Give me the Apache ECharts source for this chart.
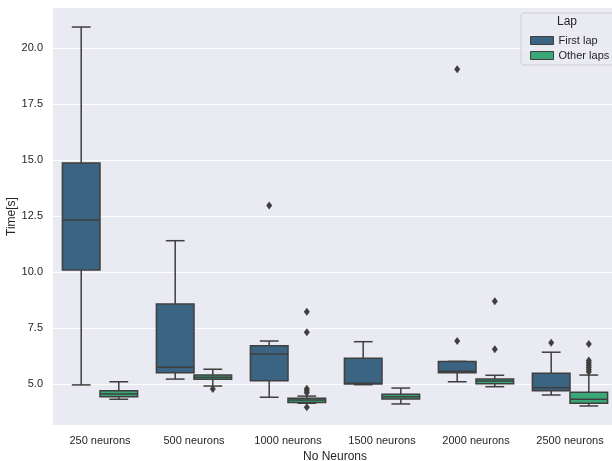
<!DOCTYPE html>
<html>
<head>
<meta charset="utf-8">
<script src="https://cdn.jsdelivr.net/npm/echarts@6/dist/echarts.min.js"></script>
<style>
  html, body { margin: 0; padding: 0; background: #fff; }
  #chart { width: 612px; height: 461px; }
</style>
</head>
<body>
<div id="chart"></div>
<script>
// categories and box statistics: [lower whisker, Q1, median, Q3, upper whisker]
var categories = ['250 neurons', '500 neurons', '1000 neurons', '1500 neurons', '2000 neurons', '2500 neurons'];
var firstLapBoxes = [
  [4.96, 10.09, 12.32, 14.87, 20.94],
  [5.22, 5.50, 5.75, 8.57, 11.40],
  [4.41, 5.15, 6.34, 6.71, 6.92],
  [4.97, 5.00, 5.03, 6.15, 6.89],
  [5.10, 5.50, 5.57, 6.01, 6.01],
  [4.51, 4.70, 4.83, 5.48, 6.42]
];
var otherLapBoxes = [
  [4.32, 4.43, 4.55, 4.70, 5.10],
  [4.91, 5.21, 5.30, 5.40, 5.66],
  [4.14, 4.17, 4.29, 4.36, 4.46],
  [4.11, 4.33, 4.43, 4.54, 4.82],
  [4.88, 5.01, 5.13, 5.22, 5.39],
  [4.02, 4.14, 4.32, 4.63, 5.40]
];
// outliers per category
var firstLapOutliers = [[], [], [12.97], [], [19.05, 6.92], [6.84]];
var otherLapOutliers = [[], [4.78], [8.23, 7.31, 4.79, 4.70, 4.61, 3.96], [], [8.70, 6.55], [6.79, 6.05, 5.95, 5.85, 5.75, 5.65, 5.55]];
var yTicks = [5, 7.5, 10, 12.5, 15, 17.5, 20];

var edge = '#3f3f3f';
var colFirst = '#3b6482';
var colOther = '#3aa776';
var font = 'Liberation Sans, Arial, sans-serif';

function boxData(list) {
  return list.map(function (b, i) { return [i].concat(b); });
}
function outlierData(list) {
  var out = [];
  list.forEach(function (vals, i) {
    vals.forEach(function (v) { out.push([i, v]); });
  });
  return out;
}

// seaborn-like box: offset = shift of the hue inside the band (fraction of band)
function makeBoxRender(offset, fill) {
  return function (params, api) {
    var cat = api.value(0);
    var band = api.size([1, 0])[0];
    var w = band * 0.4;
    var cx = api.coord([cat, 0])[0] + offset * band;
    var yLo = api.coord([cat, api.value(1)])[1];
    var yQ1 = api.coord([cat, api.value(2)])[1];
    var yMed = api.coord([cat, api.value(3)])[1];
    var yQ3 = api.coord([cat, api.value(4)])[1];
    var yHi = api.coord([cat, api.value(5)])[1];
    var ls = { stroke: edge, lineWidth: 1.5 };
    var cap = w / 4;
    return {
      type: 'group',
      children: [
        { type: 'line', shape: { x1: cx, y1: yQ1, x2: cx, y2: yLo }, style: ls },
        { type: 'line', shape: { x1: cx, y1: yQ3, x2: cx, y2: yHi }, style: ls },
        { type: 'line', shape: { x1: cx - cap, y1: yLo, x2: cx + cap, y2: yLo }, style: ls },
        { type: 'line', shape: { x1: cx - cap, y1: yHi, x2: cx + cap, y2: yHi }, style: ls },
        { type: 'rect', shape: { x: cx - w / 2, y: yQ3, width: w, height: yQ1 - yQ3 },
          style: { fill: fill, stroke: edge, lineWidth: 1.5 } },
        { type: 'line', shape: { x1: cx - w / 2, y1: yMed, x2: cx + w / 2, y2: yMed }, style: ls }
      ]
    };
  };
}

function makeOutlierRender(offset) {
  return function (params, api) {
    var cat = api.value(0);
    var band = api.size([1, 0])[0];
    var p = api.coord([cat, api.value(1)]);
    var x = p[0] + offset * band, y = p[1];
    return {
      type: 'polygon',
      shape: { points: [[x, y - 4], [x + 3, y], [x, y + 4], [x - 3, y]] },
      style: { fill: edge }
    };
  };
}

var chart = echarts.init(document.getElementById('chart'));
var option = {
  animation: false,
  textStyle: { fontFamily: font },
  grid: {
    left: 53, top: 8, width: 564, height: 417,
    outerBoundsMode: 'none',
    show: true, backgroundColor: '#eaeaf2', borderWidth: 0
  },
  xAxis: {
    type: 'category',
    data: categories,
    name: 'No Neurons',
    nameLocation: 'middle',
    nameGap: 25,
    nameTextStyle: { fontSize: 12, color: '#262626', fontFamily: font },
    axisLine: { show: false },
    axisTick: { show: false },
    axisLabel: { fontSize: 11, color: '#262626', margin: 10, fontFamily: font },
    splitLine: { show: false }
  },
  yAxis: {
    type: 'value',
    min: 3.17,
    max: 21.79,
    name: 'Time[s]',
    nameLocation: 'middle',
    nameGap: 35,
    nameMoveOverlap: false,
    nameTextStyle: { fontSize: 12, color: '#262626', fontFamily: font },
    axisLine: { show: false },
    axisTick: { show: false, customValues: yTicks },
    axisLabel: {
      customValues: yTicks,
      fontSize: 11, color: '#262626', margin: 10, fontFamily: font,
      formatter: function (v) { return v.toFixed(1); }
    },
    splitLine: { show: true, lineStyle: { color: '#ffffff', width: 1 } }
  },
  legend: {
    orient: 'vertical',
    left: 525,
    top: 30,
    z: 120,
    itemWidth: 23,
    itemHeight: 8,
    itemGap: 4,
    icon: 'rect',
    itemStyle: { borderColor: edge, borderWidth: 1 },
    textStyle: { fontSize: 11, color: '#262626', fontFamily: font, padding: [0, 0, 0, 0] },
    data: ['First lap', 'Other laps']
  },
  graphic: [
    { type: 'rect', z: 100, shape: { x: 521, y: 13, width: 100, height: 52, r: 3 },
      style: { fill: 'rgba(234,234,242,0.85)', stroke: '#cfcfcf', lineWidth: 1 } },
    { type: 'text', z: 101, x: 567, y: 16,
      style: { text: 'Lap', fill: '#262626', font: '12px ' + font, textAlign: 'center' } }
  ],
  series: [
    {
      name: 'First lap', type: 'custom',
      itemStyle: { color: colFirst },
      renderItem: makeBoxRender(-0.2, colFirst),
      encode: { x: 0, y: [1, 2, 3, 4, 5] },
      data: boxData(firstLapBoxes)
    },
    {
      name: 'Other laps', type: 'custom',
      itemStyle: { color: colOther },
      renderItem: makeBoxRender(0.2, colOther),
      encode: { x: 0, y: [1, 2, 3, 4, 5] },
      data: boxData(otherLapBoxes)
    },
    {
      name: 'First lap outliers', type: 'custom',
      renderItem: makeOutlierRender(-0.2),
      encode: { x: 0, y: 1 },
      data: outlierData(firstLapOutliers)
    },
    {
      name: 'Other laps outliers', type: 'custom',
      renderItem: makeOutlierRender(0.2),
      encode: { x: 0, y: 1 },
      data: outlierData(otherLapOutliers)
    }
  ]
};
chart.setOption(option);
window.addEventListener('resize', function () {
  chart.resize();
});
</script>
</body>
</html>
